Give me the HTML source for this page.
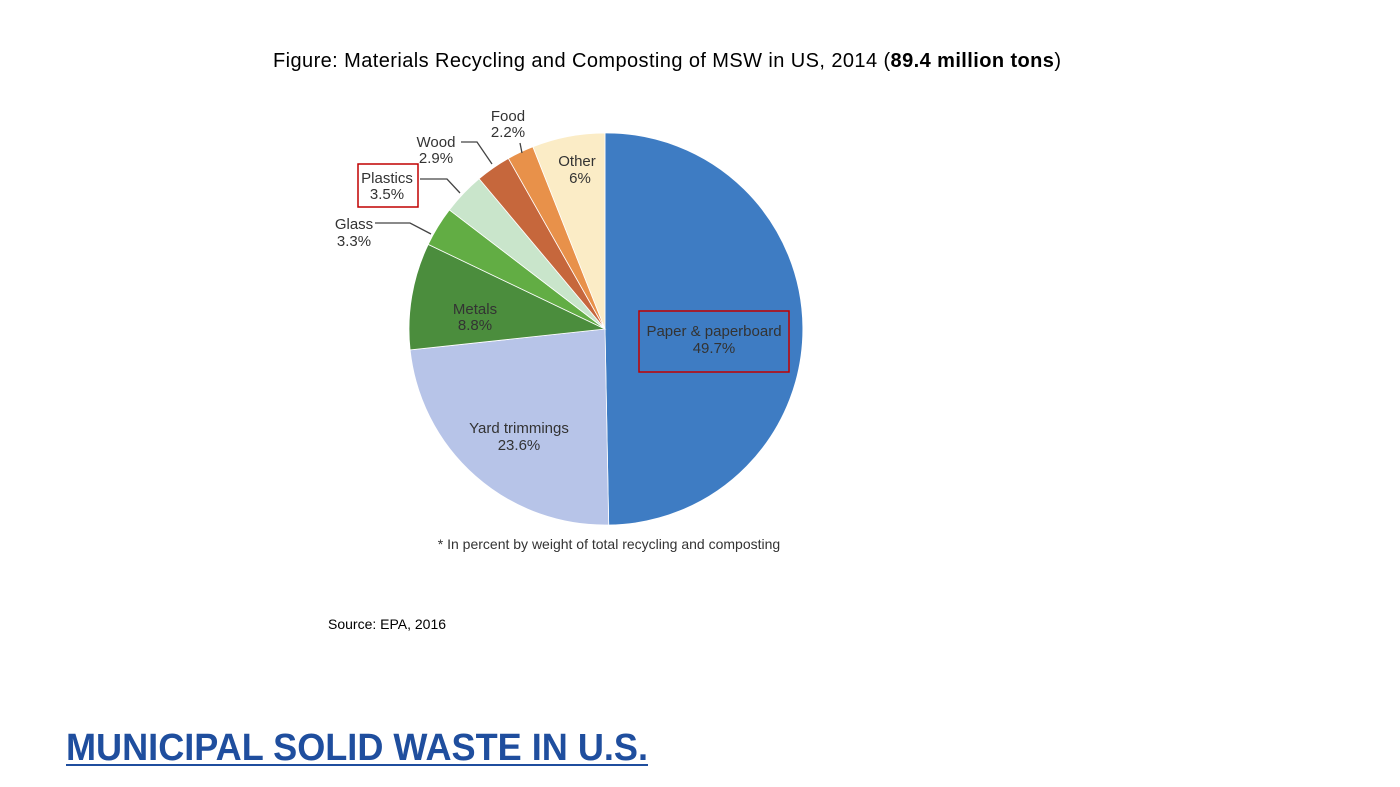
<!DOCTYPE html>
<html><head><meta charset="utf-8"><style>
html,body{margin:0;padding:0;background:#fff;}
svg{display:block;font-family:"Liberation Sans",sans-serif;}
</style></head><body>
<svg width="1400" height="787" viewBox="0 0 1400 787">
<text x="667" y="67" font-size="20" text-anchor="middle" fill="#000" textLength="788">Figure: Materials Recycling and Composting of MSW in US, 2014 (<tspan font-weight="bold">89.4 million tons</tspan>)</text>
<g stroke="#fff" stroke-width="0.8">
<path d="M605,329 L605,133 A196,196 0 0 1 608.7,525 Z" fill="#3e7cc3"/>
<path d="M605,329 L608.7,525 A196,196 0 0 1 410.1,349.9 Z" fill="#b7c4e8"/>
<path d="M605,329 L410.1,349.9 A196,196 0 0 1 428.2,244.4 Z" fill="#4b8d3d"/>
<path d="M605,329 L428.2,244.4 A196,196 0 0 1 449.4,209.9 Z" fill="#62ad44"/>
<path d="M605,329 L449.4,209.9 A196,196 0 0 1 479.1,178.7 Z" fill="#c9e5cb"/>
<path d="M605,329 L479.1,178.7 A196,196 0 0 1 508.4,158.4 Z" fill="#c6673c"/>
<path d="M605,329 L508.4,158.4 A196,196 0 0 1 532.9,146.8 Z" fill="#e8914a"/>
<path d="M605,329 L532.9,146.8 A196,196 0 0 1 605,133 Z" fill="#fbecc6"/>
</g>
<g fill="none" stroke="#444" stroke-width="1.3">
<path d="M375,223 L410,223 L431,234"/>
<path d="M420,179 L447,179 L460,193"/>
<path d="M461,142 L477,142 L492,164"/>
<path d="M520,143 L522,153"/>
</g>
<g font-size="15" fill="#333" text-anchor="middle">
<text x="508" y="121">Food</text><text x="508" y="137">2.2%</text>
<text x="436" y="147">Wood</text><text x="436" y="163">2.9%</text>
<text x="387" y="183">Plastics</text><text x="387" y="199">3.5%</text>
<text x="354" y="229">Glass</text><text x="354" y="246">3.3%</text>
<text x="577" y="166">Other</text><text x="580" y="183">6%</text>
<text x="475" y="314">Metals</text><text x="475" y="330">8.8%</text>
<text x="519" y="433">Yard trimmings</text><text x="519" y="450">23.6%</text>
<text x="714" y="336">Paper &amp; paperboard</text><text x="714" y="353">49.7%</text>
<text x="609" y="549" font-size="14">* In percent by weight of total recycling and composting</text>
</g>
<rect x="358" y="164" width="60" height="43" fill="none" stroke="#c00000" stroke-width="1.5"/>
<rect x="639" y="311" width="150" height="61" fill="none" stroke="#c00000" stroke-width="1.5"/>
<text x="328" y="629" font-size="14" fill="#000">Source: EPA, 2016</text>
<text x="66" y="760" font-size="38" font-weight="bold" fill="#1f4e9e" textLength="582" lengthAdjust="spacingAndGlyphs">MUNICIPAL SOLID WASTE IN U.S.</text>
<rect x="66" y="764" width="582" height="2" fill="#1f4e9e"/>
</svg>
</body></html>
